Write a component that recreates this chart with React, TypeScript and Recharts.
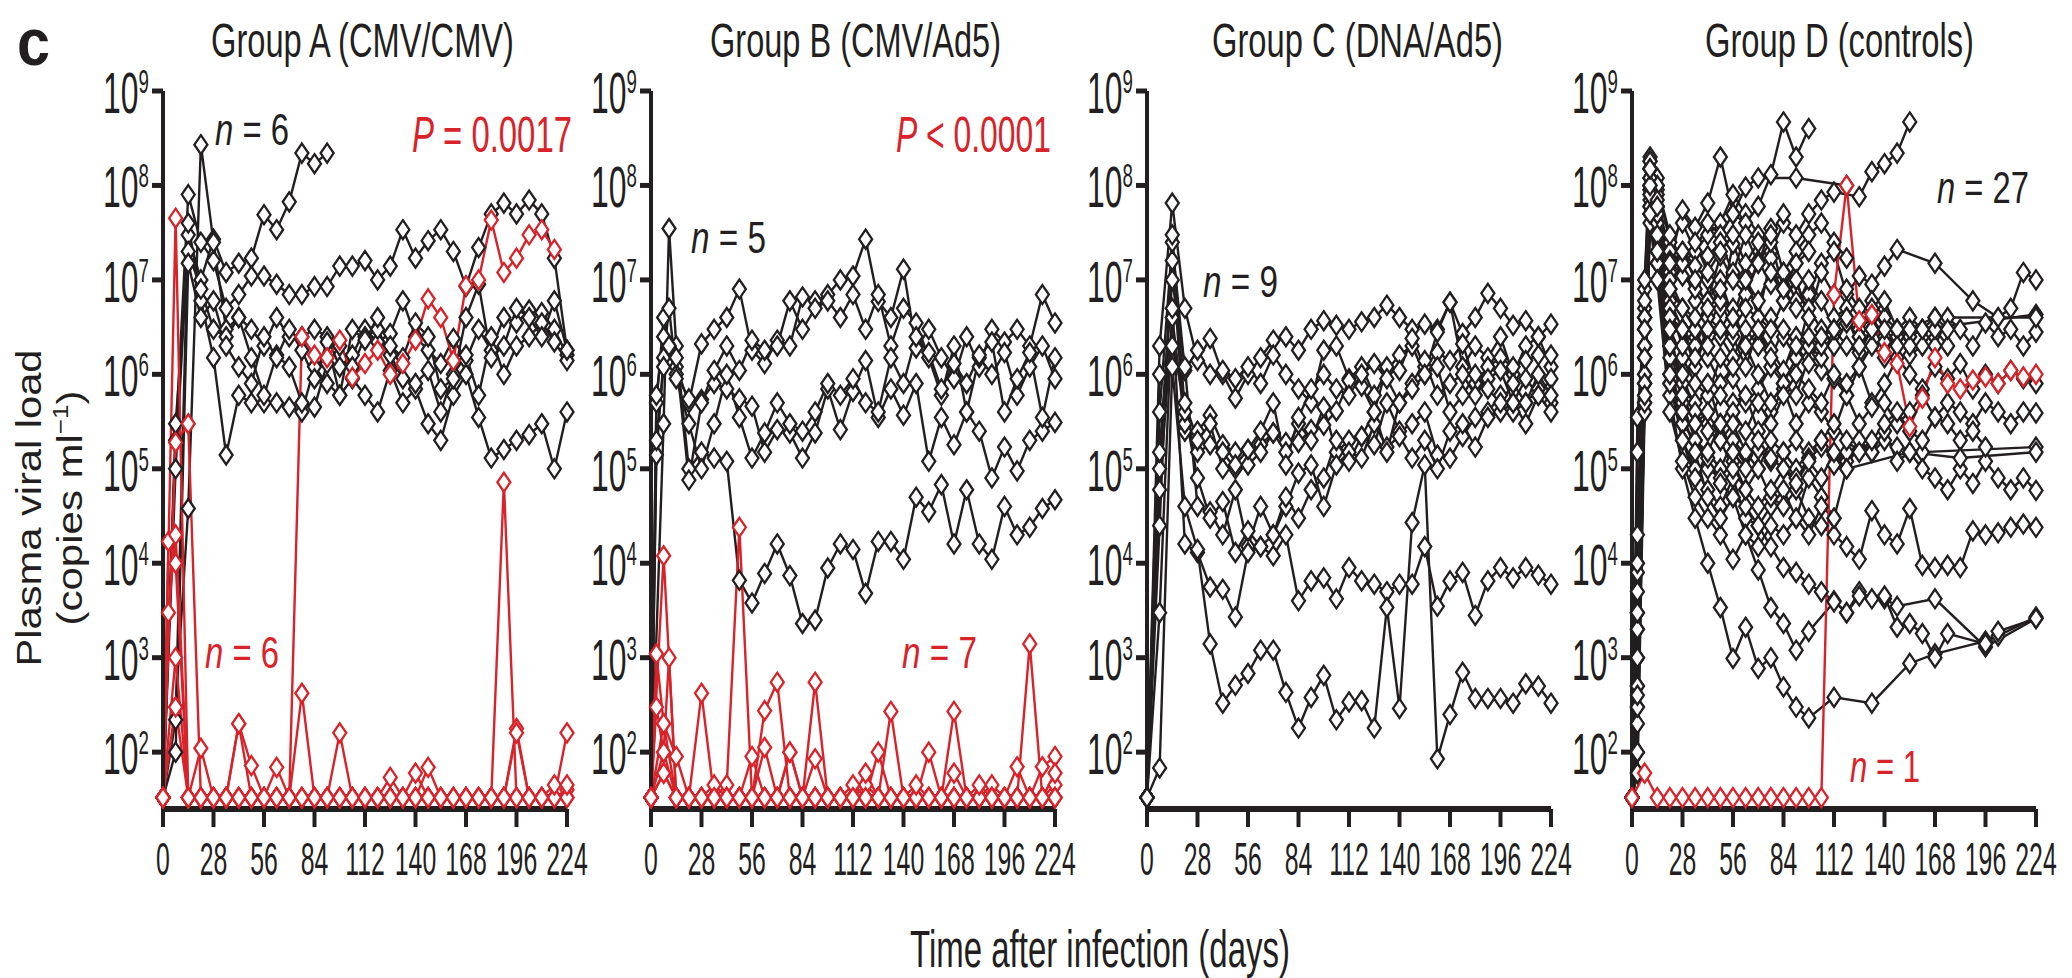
import React from "react";
import { LineChart, Line, XAxis, YAxis } from "recharts";

// plasma viral load (copies/ml) per animal, sampled on the DAYS grid; null = no sample
const _ = null;
const lo = 33; // below detection, plotted on the floor

const DAYS = [0, 3, 7, 10, 14, 21, 28, 35, 42, 49, 56, 63, 70, 77, 84, 91, 98, 105, 112, 119, 126, 133, 140, 147, 154, 161, 168, 175, 182, 189, 196, 203, 210, 217, 224];
const X_TICKS = [0, 28, 56, 84, 112, 140, 168, 196, 224];
const Y_TICKS = [1e2, 1e3, 1e4, 1e5, 1e6, 1e7, 1e8, 1e9];

// Group A (CMV/CMV)
const A1 = [lo, _, 1e5, _, 3e7, 1e7, 2.7e7, 1.2e7, 1.5e7, 1.7e7, 4.9e7, 3.4e7, 6.7e7, 2.2e8, 1.7e8, 2.2e8, _, _, _, _, _, _, _, _, _, _, _, _, _, _, _, _, _, _, _];
const A2 = [lo, _, 2e5, _, 8e7, 2.5e7, 1.6e7, 5e6, 7e6, 1.1e7, 1.1e7, 9e6, 7e6, 7e6, 8.5e6, 8.5e6, 1.4e7, 1.4e7, 1.6e7, 1e7, 1.4e7, 3.4e7, 1.7e7, 2.6e7, 3.4e7, 2e7, 8.5e6, 2.2e7, 5e7, 6.5e7, 5e7, 7e7, 5e7, 1.7e7, 1.8e6];
const A3 = [lo, _, 300, _, 3.8e4, 2.7e8, 2.5e7, 3e6, 4e6, 3e6, 2e6, 4e6, 2.5e6, 2.5e6, 3e6, 2.5e6, 1.2e6, 1.6e6, 3e6, 2.2e6, 2.7e6, 6e6, 2.5e6, 1.8e6, 1.3e6, 2.4e6, 1.4e6, 3e6, 1.8e6, 4e6, 3.5e6, 4.8e6, 4.5e6, 3e6, 1.6e6];
const A4 = [lo, _, 220, _, 4e7, 6e6, 1.5e6, 1.4e5, 6e5, 5e5, 5e5, 5e5, 4.5e5, 4e5, 1.2e6, 8e5, 6e5, 9e5, 6e5, 4e5, 1.1e6, 5e5, 7e5, 3e5, 2e5, 6e5, 1e6, 3.5e5, 1.3e5, 1.6e5, 2e5, 2.3e5, 3e5, 1e5, 4e5];
const A5 = [lo, _, 3e5, _, 2e7, 8e6, 3e6, 2.5e6, 4e6, 1.5e6, 6e5, 1.6e6, 1.2e6, 5e5, 4.5e5, 1.3e6, 2e6, 1.2e6, 2.5e6, 3e6, 1.6e6, 9e5, 8e5, 1.1e6, 4e5, 1e6, 1.6e6, 6e5, 2.5e6, 1e6, 2e6, 2.5e6, 3.5e6, 2.2e6, 1.4e6];
const A6 = [lo, _, 100, _, 1.5e7, 4e6, 6e6, 2e6, 1.2e6, 8e5, 2.5e6, 1.5e6, 3e6, 1.8e6, 9e5, 2.2e6, 6e5, 3e6, 2.3e6, 4e6, 2e6, 1.5e6, 3.5e6, 2.5e6, 7e5, 9e5, 4e6, 9e6, 1.5e6, 2e6, 5e6, 4e6, 2.5e6, 6e6, 1.8e6];
const RA1 = [lo, _, 4.5e7, _, lo, lo, lo, lo, lo, lo, lo, lo, lo, 2.5e6, 1.6e6, 1.5e6, 2.3e6, 9.3e5, 1.3e6, 1.8e6, 1e6, 1.3e6, 2.3e6, 6.3e6, 4e6, 1.4e6, 8.7e6, 1e7, 4.3e7, 1.2e7, 1.7e7, 3e7, 3.4e7, 2.1e7, _];
const RA2 = [lo, _, 1.9e5, _, 3e5, lo, lo, lo, lo, lo, lo, lo, lo, lo, lo, lo, lo, lo, lo, lo, lo, lo, lo, lo, lo, lo, lo, lo, lo, 7.2e4, lo, lo, lo, lo, lo];
const RA3 = [lo, 1.7e4, 1e4, _, lo, lo, lo, lo, 200, 72, lo, lo, lo, lo, lo, lo, lo, lo, lo, lo, lo, lo, lo, lo, lo, lo, lo, lo, lo, lo, lo, lo, lo, lo, 40];
const RA4 = [lo, _, 1e3, _, lo, 110, lo, lo, lo, lo, lo, lo, lo, 420, lo, lo, 160, lo, lo, lo, lo, lo, lo, lo, lo, lo, lo, lo, lo, lo, 178, lo, lo, lo, lo];
const RA5 = [lo, _, 300, _, lo, lo, lo, lo, 200, lo, lo, 69, lo, lo, lo, lo, lo, lo, lo, lo, 54, lo, lo, 69, lo, lo, lo, lo, lo, lo, lo, lo, lo, lo, 160];
const RA6 = [lo, 3e3, 2e4, _, lo, lo, lo, lo, lo, lo, lo, lo, lo, lo, lo, lo, lo, lo, lo, lo, lo, lo, 60, lo, lo, lo, lo, lo, lo, lo, 160, lo, lo, 45, 45];

// Group B (CMV/Ad5)
const B1 = [lo, _, 3e5, 3.5e7, 2e6, 1e5, 1.5e5, 1.3e5, 1.2e5, 6.6e3, 3.8e3, 7.8e3, 1.6e4, 7.4e3, 2.3e3, 2.5e3, 8.9e3, 1.6e4, 1.4e4, 4.8e3, 1.7e4, 1.7e4, 1.1e4, 5e4, 3.5e4, 6.8e4, 1.6e4, 6e4, 1.6e4, 1.1e4, 4e4, 2e4, 2.4e4, 3.8e4, 4.7e4];
const B2 = [lo, 5e5, 4e6, 2e6, 1.2e6, 5e5, 2.1e6, 3e6, 4e6, 8e6, 1.8e6, 1.3e6, 2.3e6, 2e6, 6.6e6, 6e6, 7e6, 1e7, 1.1e7, 2.7e7, 5.9e6, 4e6, 1.3e7, 1.9e6, 3e6, 1.5e6, 9e5, 2.5e6, 1.2e6, 3e6, 2.2e6, 3e6, 2e6, 7e6, 3.5e6];
const B3 = [lo, 1.4e5, 1.5e6, 5e6, 1e6, 5.5e5, 5.4e5, 8e5, 7e5, 5.5e5, 4.6e5, 1.5e5, 2.6e5, 2.4e5, 1.3e5, 2.4e5, 7e5, 2.6e5, 6.6e5, 1.4e6, 3.5e5, 7e5, 3.7e5, 8e5, 1.2e5, 3.5e5, 1.8e5, 4e5, 2.5e5, 8e4, 1.7e5, 9.5e4, 2e5, 2.5e5, 3.1e5];
const B4 = [lo, 6e5, 2.5e6, 2e6, 1.5e6, 7.6e4, 5e5, 1.1e6, 2e6, 1.1e6, 2.3e6, 1.8e6, 2e6, 6e6, 3e6, 5e6, 6e6, 4e6, 7e6, 3e6, 7e6, 2e6, 5e6, 3.5e6, 1.5e6, 6e5, 2e6, 4e5, 1.5e6, 1e6, 1.7e6, 6e5, 1.2e6, 2e6, 9e5];
const B5 = [lo, 2e5, 1.2e6, 2e6, 9e5, 3e5, 1e5, 3e5, 1e6, 3.5e5, 1.3e5, 2.4e5, 5e5, 3e5, 2.5e5, 4e5, 8e5, 6e5, 9e5, 5e5, 4e5, 1.5e6, 8e5, 2.5e6, 1.7e6, 7e5, 1.3e6, 8e5, 1.6e6, 2.2e6, 4e5, 9e5, 1.7e6, 3.5e5, 1.5e6];
const RB1 = [lo, _, 1.2e4, _, lo, lo, lo, lo, lo, lo, lo, lo, lo, lo, lo, lo, lo, lo, lo, lo, lo, lo, lo, lo, lo, lo, lo, lo, lo, lo, lo, lo, 1.4e3, lo, lo];
const RB2 = [lo, 1.1e3, 200, _, lo, lo, 420, lo, lo, lo, lo, lo, lo, lo, lo, 550, lo, lo, lo, lo, lo, lo, lo, lo, lo, lo, lo, lo, lo, 45, lo, lo, lo, lo, 45];
const RB3 = [lo, 300, 100, 1e3, lo, lo, lo, lo, 45, 2.4e4, lo, lo, lo, 100, lo, lo, lo, lo, lo, lo, 100, lo, lo, lo, 100, lo, lo, lo, lo, lo, lo, lo, lo, lo, lo];
const RB4 = [lo, _, 200, _, 90, lo, lo, lo, lo, lo, lo, 275, 550, lo, lo, lo, lo, lo, lo, lo, lo, 270, lo, lo, lo, lo, lo, lo, lo, lo, lo, 70, lo, lo, lo];
const RB5 = [lo, _, 60, _, lo, lo, lo, lo, lo, lo, lo, 112, lo, 100, lo, lo, lo, lo, lo, 45, lo, lo, lo, lo, lo, lo, 270, lo, lo, lo, lo, lo, lo, lo, lo];
const RB6 = [lo, _, 100, _, lo, lo, lo, 45, lo, lo, lo, lo, lo, lo, lo, 85, lo, lo, 45, lo, lo, lo, lo, lo, lo, lo, 60, lo, lo, lo, lo, lo, lo, 70, 90];
const RB7 = [lo, _, 60, _, lo, lo, lo, lo, lo, lo, 90, lo, lo, lo, lo, lo, lo, lo, lo, 60, lo, lo, lo, 45, lo, lo, lo, lo, 45, lo, lo, lo, lo, lo, 60];

// Group C (DNA/Ad5)
const C1 = [lo, _, 2e6, _, 6.5e7, 5e6, 1.4e6, 2.4e6, 1e6, 5.6e5, 1e6, 1.5e6, 2.3e6, 2.5e6, 1.8e6, 3e6, 3.7e6, 3.3e6, 3e6, 3.6e6, 4e6, 5.4e6, 4e6, 3e6, 3.4e6, 3e6, 5.8e6, 2.7e6, 4e6, 7.2e6, 5e6, 3.3e6, 3.7e6, 2.5e6, 3.4e6];
const C2 = [lo, _, 4e5, _, 2.5e7, 1.1e6, 1.8e6, 1e6, 1.1e6, 9e5, 1.2e6, 8e5, 1.6e6, 1e6, 7e5, 5e5, 1.8e6, 2e6, 9e5, 1.2e6, 6e5, 1.1e6, 1.6e6, 2e6, 1e6, 2.8e6, 5.8e6, 1.2e6, 2e6, 1.5e6, 2.5e6, 1e6, 2e6, 2.5e6, 1.2e6];
const C3 = [lo, _, 1e5, _, 1.6e7, 2.5e5, 2.5e5, 3.7e5, 1.8e5, 1.5e5, 1.6e5, 1.8e5, 2.4e5, 1.9e5, 1.9e5, 2.6e5, 2.9e5, 4.1e5, 8.6e5, 7.5e5, 4e5, 1.2e6, 1.1e6, 2.4e6, 1.2e6, 1.7e6, 1.4e6, 2.1e6, 8e5, 1.2e6, 1.5e6, 1.2e6, 1.4e6, 1.6e6, 1.6e6];
const C4 = [lo, _, 6e4, _, 4e6, 3e5, 1.5e5, 1.8e5, 1.5e5, 1e5, 1.1e5, 1.5e5, 2.4e5, 1.5e5, 3e5, 2e5, 4.5e5, 1.5e5, 2e5, 2.2e5, 1.8e5, 5e5, 2.5e5, 3e5, 4e5, 1.4e5, 1.3e5, 2.2e5, 3.5e5, 4e5, 6e5, 4e5, 5e5, 7e5, 5e5];
const C5 = [lo, _, 1.5e5, _, 1e7, 1.2e6, 4e4, 3.5e4, 2e4, 6e4, 1.5e4, 4e4, 2e4, 4e4, 9e4, 1.1e5, 4e4, 1.1e5, 1.5e5, 1.3e5, 3e5, 1.7e5, 2.2e5, 1.3e5, 2e5, 1e5, 2.5e5, 3e5, 1.7e5, 3.5e5, 4e5, 5e5, 3e5, 6e5, 4e5];
const C6 = [lo, _, 2.5e4, _, 3e7, 4e5, 8e4, 3e4, 4.5e4, 1.3e4, 2.2e4, 1.5e4, 2e4, 5e4, 3e4, 6e4, 8e4, 2e5, 1.2e5, 2.2e5, 4e5, 1.5e5, 5e5, 8e5, 1.4e6, 6e5, 8e5, 1e6, 6e5, 9e5, 1.1e6, 5e5, 9e5, 6e5, 9e5];
const C7 = [lo, _, 3e3, _, 5e6, 1.6e4, 1.3e4, 5.6e3, 5.3e3, 2.7e3, 1.3e4, 1.5e4, 1.2e4, 2e4, 4e3, 6.5e3, 7e3, 4.2e3, 9e3, 6.5e3, 6e3, 5e3, 6e3, 6e3, 1.5e4, 3.5e3, 6.5e3, 8e3, 2.8e3, 6.5e3, 9e3, 7e3, 9e3, 7.5e3, 6e3];
const C8 = [lo, _, 68, _, 1.2e6, 4e4, 1.4e4, 1.4e3, 330, 510, 680, 1.2e3, 1.2e3, 430, 180, 380, 650, 220, 340, 350, 180, 3.4e3, 290, 2.7e4, 1.1e5, 85, 250, 700, 370, 370, 370, 330, 530, 500, 330];
const C9 = [lo, _, 1e6, _, 2e6, 5e5, 2e5, 3e5, 1e5, 1.1e5, 1.6e5, 2.5e5, 5e5, 1.1e5, 3.5e5, 7e5, 1e6, 7e5, 6e5, 1e6, 1.3e6, 9e5, 5e5, 7e5, 1e6, 1.2e6, 4e5, 6e5, 1e6, 7e5, 5e5, 8e5, 5e5, 1e6, 6e5];

// Group D (controls)
const D1 = [lo, 3e3, 5e6, 1.5e8, 1e8, 2.5e7, 4e7, 2e7, 3e7, 4e7, 8e7, 5e7, 3e7, 2e7, 4e7, 3e7, 5e7, 7e7, 8.5e7, _, 7.6e7, 1.4e8, 1.7e8, 2.2e8, 4.7e8, _, _, _, _, _, _, _, _, _, _];
const D2 = [lo, 1e4, 8e6, 2e8, 1.2e8, 8e6, 1.5e7, 2e7, 4e7, 3e7, 5e7, 4e7, 6e7, 1.3e8, 4.7e8, 2e8, 4e8, _, _, _, _, _, _, _, _, _, _, _, _, _, _, _, _, _, _];
const D3 = [lo, 2e4, 1e7, 1.8e8, 9e7, 1.5e7, 5.5e7, 3.6e7, 6.5e7, 2e8, 5e7, 9.6e7, 1.2e8, _, _, 1.2e8, _, _, _, 1e8, _, _, _, _, _, _, _, _, _, _, _, _, _, _, _];
const D4 = [lo, 5e3, 4e6, 1.2e8, 6e7, 2e7, 1.5e7, 6e6, 1.8e7, 2.5e7, 1.2e7, 3e7, 1.5e7, 3.5e7, 1.2e7, 2e7, 3e7, 4e7, 2.5e7, 1.7e7, _, _, _, _, _, _, _, _, _, _, _, _, _, _, _];
const D5 = [lo, 2e3, 3e6, 1e8, 5e7, 1.6e7, 1.1e7, 8e6, 6e6, 1.8e7, 1e7, 7e6, 1.6e7, 9e6, 1.2e7, 6e6, 7e6, 1.5e7, 2e7, 7e6, 1.1e7, 9e6, 1.4e7, 2.1e7, _, _, 1.5e7, _, _, 6e6, _, 4e6, 5e6, 1.2e7, 1e7];
const D6 = [lo, 500, 2e6, 1.5e8, 6e7, 1.2e7, 2e7, 1.4e7, 1e7, 5e6, 2.4e7, 1.1e7, 4e6, 1.7e7, 6e6, 1e7, 4e6, 1.2e7, 7e6, 8e6, 5e6, 4e6, 2.5e6, _, _, 3e6, _, _, _, _, _, _, _, _, 4.3e6];
const D7 = [lo, 1e3, 1.5e6, 9e7, 4e7, 4e6, 3e6, 1.2e6, 3e6, 2.5e6, 1.5e6, 3e6, 2e6, 4e6, 2.5e6, 1.5e6, 5e6, 3e6, 2e6, 3.5e6, 2.5e6, 6e6, 4e6, 3e6, 2.5e6, 3e6, 2e6, 4e6, 3e6, 2e6, 3.5e6, 2.5e6, 3e6, 2e6, 2.8e6];
const D8 = [lo, 200, 8e5, 7e7, 3e7, 3e6, 1.5e6, 8e5, 6e5, 1.5e6, 9e5, 5e5, 7e5, 1.2e6, 8e5, 6e5, 1.5e6, 1.1e6, 9e5, 6e5, 1.2e6, 5e5, 8e5, 1.5e6, 1e6, 7e5, 1.2e6, 9e5, 1.3e6, 7e5, 1e6, 8e5, 1.1e6, 9e5, 8e5];
const D9 = [lo, 3.5e5, 4e6, 1.2e8, 5e7, 6e6, 3e6, 2e6, 4e6, 3e6, 2.5e6, 1.2e6, 3e6, 1.8e6, 1.1e6, 2.5e6, 2e6, 1.5e6, 3e6, 2e6, 1.7e6, 3e6, 2.2e6, 2.5e6, 1.6e6, 2e6, 3e6, 2e6, _, _, _, _, _, _, _];
const D10 = [lo, 1.5e5, 2e6, 8e7, 4e7, 3e6, 6e5, 4e5, 8e5, 3e5, 5e5, 6e5, 2.5e5, 4e5, 7e5, 3e5, 5e5, 4e5, 2.5e5, 6e5, 3e5, 4.5e5, 5e5, 3e5, 4e5, 6e5, 3.5e5, 5e5, 4e5, 3e5, 5e5, 4e5, 3e5, 4e5, 3.9e5];
const D11 = [lo, 60, 1e6, 6e7, 2e7, 1.5e6, 3e5, 2e5, 1.5e5, 1e5, 2e5, 1.4e5, 1.6e5, 1.2e5, 1.5e5, 2e5, 1.3e5, 1.7e5, 1.4e5, 1.2e5, 1.6e5, 1.5e5, 2e5, 1.7e5, _, 1.5e5, _, _, _, _, _, _, _, _, 1.7e5];
const D12 = [lo, 300, 5e5, 5e7, 1.5e7, 8e5, 2e5, 1e5, 6e4, 4e4, 8e4, 3e4, 2.5e4, 4e4, 6e4, 3e4, 8e4, 5e4, 3e4, 1e5, 2e5, 1.5e5, 2.5e5, 1.2e5, 1.5e5, 1e5, 8e4, 6e4, 1e5, 7e4, 1.2e5, 8e4, 6e4, 8e4, 5.9e4];
const D13 = [lo, 1e3, 1.5e6, 1e8, 3e7, 2e6, 5e5, 2e5, 1e5, 8e4, 1.2e5, 6e4, 1e5, 5e4, 4e4, 6e4, 3e4, 2.5e4, 2e4, 1.5e4, 1.1e4, 3.6e4, 2e4, 1.6e4, 3.8e4, 9.5e3, 9e3, 9.5e3, 9e3, 2.2e4, 2e4, 2.1e4, 2.4e4, 2.6e4, 2.4e4];
const D14 = [lo, 100, 8e5, 6e7, 2e7, 1e6, 3e5, 2e5, 1.3e5, 7e4, 5e4, 4e4, 2.5e4, 1.5e4, 9e3, 8e3, 6e3, 5e3, 4e3, 3e3, 5e3, 4.2e3, 4.2e3, 3.5e3, _, _, 4.2e3, _, _, _, 1.3e3, _, _, _, 2.6e3];
const D15 = [lo, _, 6e5, 5e7, 1.5e7, 6e5, 1e5, 3e4, 1e4, 3.4e3, 980, 2.1e3, 770, 1e3, 490, 300, 230, _, 380, _, _, 330, _, _, 870, _, 1.1e3, _, _, _, 1.5e3, 1.7e3, _, _, 2.7e3];
const D16 = [lo, 60, 4e5, 4e7, 1e7, 4e5, 1.2e5, 5e4, 3e4, 2e4, 1.1e4, 2e4, 8.5e3, 3.4e3, 2.3e3, 1.2e3, 1.9e3, _, 3.9e3, 3e3, 4.5e3, _, 4.5e3, 2.1e3, 2.3e3, 1.8e3, 1e3, 1.8e3, _, _, 1.4e3, 1.9e3, _, _, 2.6e3];
const D17 = [lo, 2e3, 3e6, 1.5e8, 8e7, 1e7, 5e6, 3e6, 6e6, 1e7, 4e6, 7e6, 1.5e7, 2.5e7, 8e6, 1.5e7, 2e7, _, _, _, _, _, _, _, _, _, _, _, _, _, _, _, _, _, _];
const D18 = [lo, 8e3, 6e6, 1.8e8, 1e8, 3e7, 1.5e7, 2.5e7, 1.2e7, 2e7, 3e7, 1.5e7, 2.5e7, 3e7, 5e7, _, _, _, _, _, _, _, _, _, _, _, _, _, _, _, _, _, _, _, _];
const D19 = [lo, 500, 2e6, 1e8, 6e7, 5e6, 2e6, 3e6, 1.5e6, 8e5, 1.2e6, 2e6, 1e6, 5e5, 8e5, 1.5e6, 2.5e6, 2e6, 4e6, 5e6, 3e6, 4e6, 6e6, 3e6, 4e6, 3e6, 4e6, 3e6, _, _, _, _, _, _, _];
const D20 = [lo, 300, 1e6, 9e7, 4e7, 2e6, 8e5, 5e5, 3e5, 6e5, 4e5, 2.5e5, 5e5, 3e5, 6e5, 1e6, 7e5, 5e5, 1e6, 8e5, 1.2e6, 2e6, 1.5e6, 3e6, 2e6, _, _, _, _, _, _, _, _, _, _];
const D21 = [lo, 1e3, 2e6, 1.2e8, 5e7, 4e6, 3e6, 1.5e6, 3e6, 6e6, 3e6, 5e6, 4e6, 3e6, 6e6, 1e7, 4e6, _, _, _, _, _, _, _, _, _, _, _, _, _, _, _, _, _, _];
const D22 = [lo, _, 5e5, 6e7, 2e7, 2e6, 1e6, 4e5, 2.5e5, 2e5, 3e5, 1.5e5, 1e5, 2e5, 1.5e5, 1e5, 1.5e5, 2e5, 1.1e5, 1.5e5, _, _, _, _, _, _, _, _, _, _, _, _, _, _, _];
const D23 = [lo, 400, 8e5, 8e7, 3e7, 8e5, 4e5, 1.5e5, 5e4, 3e4, 5e4, 2e4, 1.5e4, 2.5e4, 2e4, 3e4, 2e4, 4e4, 3e4, _, _, _, _, _, _, _, _, _, _, _, _, _, _, _, _];
const D24 = [lo, _, 1.5e6, 1e8, 5e7, 3e6, 6e5, 3e5, 4e5, 2e5, 1e5, 6e4, 4e4, 6e4, 1e5, 8e4, 1.3e5, 2e5, 3e5, 2e5, 1.5e5, 2e5, 3e5, 4e5, 2.5e5, 2e5, 3.5e5, 3e5, 2e5, 2.5e5, 1.7e5, _, _, _, _];
const D25 = [lo, 3e3, 4e6, 1.5e8, 7e7, 8e6, 5e6, 4e6, 2e6, 3e6, 5e6, 2e6, 3e6, 1.5e6, 3e6, 2e6, 1.3e6, 2.5e6, 3e6, 4e6, 2.5e6, 5e6, 3e6, 2e6, 3e6, _, 4e6, _, _, _, _, _, _, _, 4e6];
const D26 = [lo, 100, 6e5, 5e7, 2e7, 1e6, 2e5, 8e4, 1.5e5, 3e5, 1.5e5, 1e5, 2e5, 1.3e5, 1e5, 7e4, 1.2e5, 8e4, 1.5e5, 1e5, _, _, _, _, 1.5e5, _, _, _, 1.3e5, _, _, _, _, _, 1.5e5];
const D27 = [lo, 1e4, 3e6, 1.5e8, 6e7, 1.5e7, 2e7, 1e7, 5e6, 8e6, 4e6, 1e7, 6e6, 1.2e7, 8e6, 5e6, 1e7, 6e6, 3e6, 4e6, 2e6, 3e6, _, _, _, _, _, _, _, _, _, _, _, _, _];
const RD1 = [lo, _, 60, _, lo, lo, lo, lo, lo, lo, lo, lo, lo, lo, lo, lo, lo, lo, 7e6, 1e8, 3.7e6, 4.3e6, 1.7e6, 1.3e6, 2.8e5, 5.6e5, 1.5e6, 8e5, 7e5, 8.7e5, 9.4e5, 8e5, 1.1e6, 9.4e5, 1e6];

const BLACK = "#231f20";
const RED = "#d8232a";
const FONT = "'Liberation Sans', Arial, Helvetica, sans-serif";
const SQ = 0.62; // horizontal squeeze of the condensed type

const YW = 120;
const PW = 404;
const TOP = 91;
const PH = 718;
const XH = 100;

function diamond(color: string) {
  return (p: any) => {
    const { cx, cy, value, index } = p;
    if (value == null || cx == null || cy == null || isNaN(cy)) return <g key={`e${index}`} />;
    return (
      <path
        key={`d${index}`}
        d={`M${cx},${cy - 9.5}L${cx + 6.5},${cy}L${cx},${cy + 9.5}L${cx - 6.5},${cy}Z`}
        fill="#fff"
        stroke={color}
        strokeWidth={2.3}
      />
    );
  };
}

function XTick({ x, y, payload }: any) {
  return (
    <g transform={`translate(${x},${y + 46}) scale(0.54,1)`}>
      <text textAnchor="middle" fontSize={46} fill={BLACK} fontFamily={FONT}>
        {payload.value}
      </text>
    </g>
  );
}

function YTick({ x, y, payload }: any) {
  const exp = Math.round(Math.log10(payload.value));
  return (
    <g transform={`translate(${x - 1},${y}) scale(0.55,1)`}>
      <text textAnchor="end" y={22} fontSize={58} fill={BLACK} fontFamily={FONT}>
        10
        <tspan fontSize={34} dy={-20}>
          {exp}
        </tspan>
      </text>
    </g>
  );
}

function Panel({ x0, black, red }: { x0: number; black: (number | null)[][]; red: (number | null)[][] }) {
  const rows = DAYS.map((day, i) => {
    const r: any = { day };
    black.forEach((s, j) => (r[`b${j}`] = s[i]));
    red.forEach((s, j) => (r[`r${j}`] = s[i]));
    return r;
  });
  return (
    <div style={{ position: "absolute", left: x0 - YW, top: 0 }}>
      <LineChart width={YW + PW + 24} height={TOP + PH + XH} data={rows} margin={{ top: TOP, right: 24, bottom: 0, left: 0 }}>
        <XAxis
          type="number"
          dataKey="day"
          domain={[0, 224]}
          ticks={X_TICKS}
          interval={0}
          height={XH}
          tickSize={18}
          axisLine={{ stroke: BLACK, strokeWidth: 6 }}
          tickLine={{ stroke: BLACK, strokeWidth: 4 }}
          tick={<XTick />}
        />
        <YAxis
          type="number"
          scale="log"
          domain={[25, 1e9]}
          ticks={Y_TICKS}
          interval={0}
          width={YW}
          tickSize={11}
          axisLine={{ stroke: BLACK, strokeWidth: 4 }}
          tickLine={{ stroke: BLACK, strokeWidth: 5 }}
          tick={<YTick />}
        />
        {black.map((_s, j) => (
          <Line key={`b${j}`} dataKey={`b${j}`} stroke={BLACK} strokeWidth={2.4} dot={diamond(BLACK)} activeDot={false} connectNulls isAnimationActive={false} />
        ))}
        {red.map((_s, j) => (
          <Line key={`r${j}`} dataKey={`r${j}`} stroke={RED} strokeWidth={2.4} dot={diamond(RED)} activeDot={false} connectNulls isAnimationActive={false} />
        ))}
      </LineChart>
    </div>
  );
}

// condensed text: squeezed group, width pinned with textLength
function Cond({ x, y, len, size, color, children, bold }: any) {
  return (
    <g transform={`translate(${x},${y}) scale(${SQ},1)`}>
      <text
        x={0}
        y={0}
        fontSize={size}
        fill={color}
        fontFamily={FONT}
        fontWeight={bold ? "bold" : "normal"}
        textLength={len / SQ}
        lengthAdjust="spacingAndGlyphs"
      >
        {children}
      </text>
    </g>
  );
}

function Stat({ x, y, len, size, color, italic, rest }: any) {
  return (
    <Cond x={x} y={y} len={len} size={size} color={color}>
      <tspan fontStyle="italic">{italic}</tspan>
      {rest}
    </Cond>
  );
}

export default function App() {
  return (
    <div style={{ position: "relative", width: 2072, height: 978, background: "#fff", overflow: "hidden" }}>
      <style>{"body{margin:0}"}</style>
      <Panel x0={163} black={[A1, A2, A3, A4, A5, A6]} red={[RA1, RA2, RA3, RA4, RA5, RA6]} />
      <Panel x0={651} black={[B1, B2, B3, B4, B5]} red={[RB1, RB2, RB3, RB4, RB5, RB6, RB7]} />
      <Panel x0={1147} black={[C1, C2, C3, C4, C5, C6, C7, C8, C9]} red={[]} />
      <Panel
        x0={1632}
        black={[D1, D2, D3, D4, D5, D6, D7, D8, D9, D10, D11, D12, D13, D14, D15, D16, D17, D18, D19, D20, D21, D22, D23, D24, D25, D26, D27]}
        red={[RD1]}
      />
      <svg width={2072} height={978} style={{ position: "absolute", left: 0, top: 0, pointerEvents: "none" }}>
        <Cond x={17} y={65} len={33} size={66} color={BLACK} bold>
          c
        </Cond>
        <Cond x={211} y={57} len={303} size={49} color={BLACK}>Group A (CMV/CMV)</Cond>
        <Cond x={710} y={57} len={291} size={49} color={BLACK}>Group B (CMV/Ad5)</Cond>
        <Cond x={1212} y={57} len={291} size={49} color={BLACK}>Group C (DNA/Ad5)</Cond>
        <Cond x={1705} y={57} len={269} size={49} color={BLACK}>Group D (controls)</Cond>
        <Stat x={215} y={145} len={74} size={45} color={BLACK} italic="n" rest=" = 6" />
        <Stat x={412} y={152} len={160} size={50} color={RED} italic="P" rest=" = 0.0017" />
        <Stat x={205} y={668} len={74} size={45} color={RED} italic="n" rest=" = 6" />
        <Stat x={691} y={253} len={75} size={45} color={BLACK} italic="n" rest=" = 5" />
        <Stat x={896} y={152} len={155} size={50} color={RED} italic="P" rest=" < 0.0001" />
        <Stat x={902} y={668} len={75} size={45} color={RED} italic="n" rest=" = 7" />
        <Stat x={1203} y={297} len={75} size={45} color={BLACK} italic="n" rest=" = 9" />
        <Stat x={1937} y={203} len={92} size={45} color={BLACK} italic="n" rest=" = 27" />
        <Stat x={1850} y={782} len={70} size={45} color={RED} italic="n" rest=" = 1" />
        <Cond x={910} y={967} len={380} size={51} color={BLACK}>Time after infection (days)</Cond>
        <g transform="translate(41,508) rotate(-90) scale(1,0.85)">
          <text textAnchor="middle" fontSize={42} fill={BLACK} fontFamily={FONT} textLength={317} lengthAdjust="spacingAndGlyphs">
            Plasma viral load
          </text>
        </g>
        <g transform="translate(82,508) rotate(-90) scale(1,0.85)">
          <text textAnchor="middle" fontSize={42} fill={BLACK} fontFamily={FONT}>
            (copies ml
            <tspan fontSize={26} dy={-16}>
              −1
            </tspan>
            <tspan dy={16}>)</tspan>
          </text>
        </g>
      </svg>
    </div>
  );
}
